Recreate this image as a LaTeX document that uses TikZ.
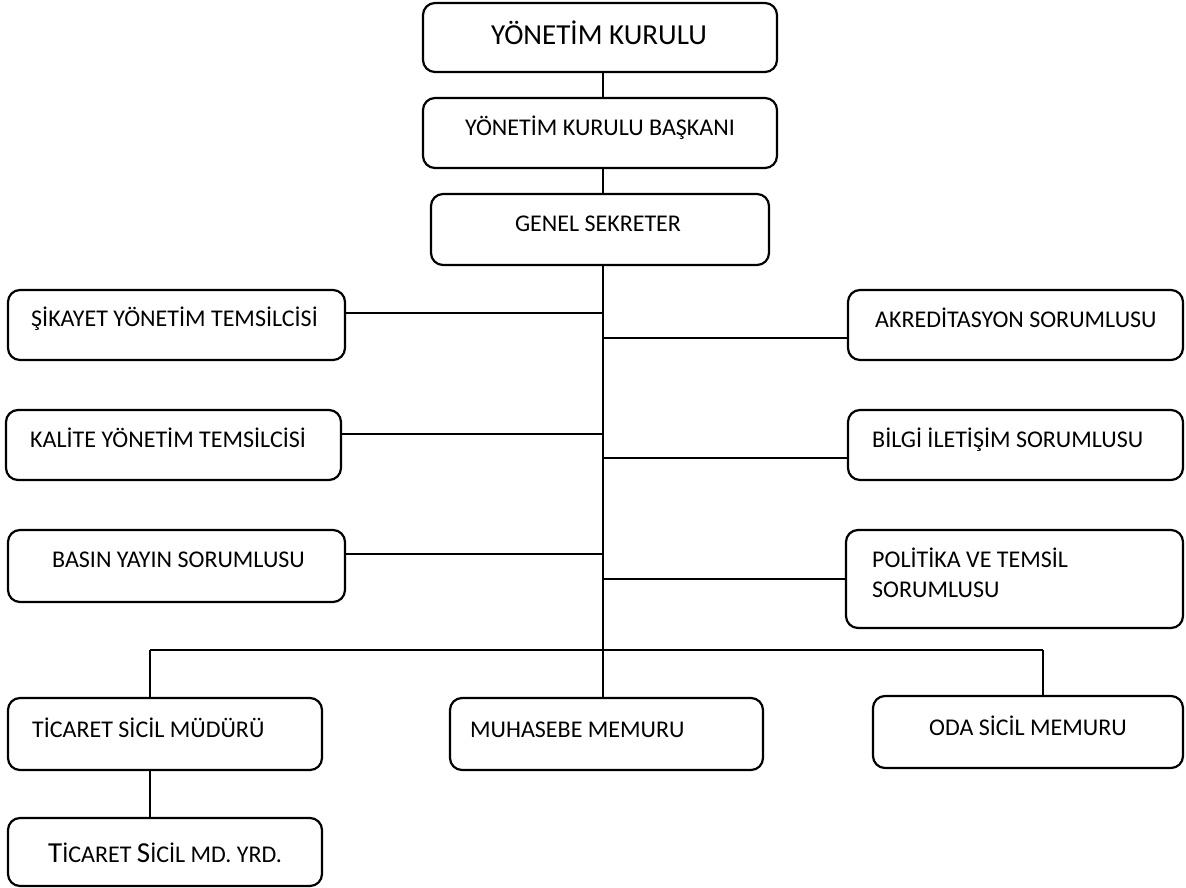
\documentclass[tikz,border=0pt]{standalone}
\usepackage{fontspec}
\setmainfont{Carlito}
\begin{document}
\begin{tikzpicture}[x=1pt,y=-1pt,
  box/.style={draw, line width=2.2pt, rounded corners=12pt, inner sep=0pt},
  conn/.style={draw, line width=1.2pt},
  lbl/.style={anchor=base west, inner sep=0pt, font=\fontsize{24}{29}\selectfont},
  clbl/.style={anchor=base, inner sep=0pt, font=\fontsize{24}{29}\selectfont}]
\useasboundingbox (0,0) rectangle (1186,888);
% boxes
\node[box, minimum width=354pt, minimum height=69pt] (yk) at (600,37.5) {};
\node[box, minimum width=354pt, minimum height=70pt] (ykb) at (600,133) {};
\node[box, minimum width=338pt, minimum height=71pt] (gs) at (600,229.5) {};
\node[box, minimum width=337pt, minimum height=70pt] (sik) at (176.5,325) {};
\node[box, minimum width=335pt, minimum height=70pt] (kal) at (173.5,445) {};
\node[box, minimum width=337pt, minimum height=72pt] (bas) at (176.5,566) {};
\node[box, minimum width=335pt, minimum height=70pt] (akr) at (1015.5,325) {};
\node[box, minimum width=335pt, minimum height=70pt] (bil) at (1015.5,445) {};
\node[box, minimum width=337pt, minimum height=98pt] (pol) at (1014.5,579) {};
\node[box, minimum width=314pt, minimum height=72pt] (tic) at (165,734) {};
\node[box, minimum width=313pt, minimum height=72pt] (muh) at (606.5,734) {};
\node[box, minimum width=310pt, minimum height=72pt] (oda) at (1028,732) {};
\node[box, minimum width=314pt, minimum height=68pt] (yrd) at (165,852) {};
% texts
\node[clbl, font=\fontsize{29}{35}\selectfont] (t-yk) at (599,45) {YÖNETİM KURULU};
\node[clbl] (t-ykb) at (600,136) {YÖNETİM KURULU BAŞKANI};
\node[clbl] (t-gs) at (598,231) {GENEL SEKRETER};
\node[lbl] (t-sik) at (31,326) {ŞİKAYET YÖNETİM TEMSİLCİSİ};
\node[lbl] (t-kal) at (30,447) {KALİTE YÖNETİM TEMSİLCİSİ};
\node[lbl] (t-bas) at (52,567) {BASIN YAYIN SORUMLUSU};
\node[lbl] (t-akr) at (875,327) {AKREDİTASYON SORUMLUSU};
\node[lbl] (t-bil) at (872,447) {BİLGİ İLETİŞİM SORUMLUSU};
\node[lbl, align=left] (t-pol) at (872,597) {POLİTİKA VE TEMSİL\\[1pt]SORUMLUSU};
\node[lbl] (t-tic) at (32,737) {TİCARET SİCİL MÜDÜRÜ};
\node[lbl] (t-muh) at (470,737) {MUHASEBE MEMURU};
\node[clbl] (t-oda) at (1028,735) {ODA SİCİL MEMURU};
\node[lbl] (t-yrd) at (48,862) {{\fontsize{29}{34}\selectfont T}İCARET {\fontsize{29}{34}\selectfont S}İCİL MD. YRD.};
% connectors
\coordinate (sp) at (603,0);
\coordinate (busL) at (150,650);
\coordinate (busR) at (1043,650);
\draw[conn] (yk.south -| sp) -- (ykb.north -| sp);
\draw[conn] (ykb.south -| sp) -- (gs.north -| sp);
\draw[conn] (gs.south -| sp) -- (muh.north -| sp);
\draw[conn] ([yshift=12pt]sik.east) -- ([yshift=12pt]sik.east -| sp);
\draw[conn] ([yshift=11pt]kal.east) -- ([yshift=11pt]kal.east -| sp);
\draw[conn] ([yshift=12pt]bas.east) -- ([yshift=12pt]bas.east -| sp);
\draw[conn] ([yshift=-13pt]akr.west) -- ([yshift=-13pt]akr.west -| sp);
\draw[conn] ([yshift=-13pt]bil.west) -- ([yshift=-13pt]bil.west -| sp);
\draw[conn] (pol.west) -- (pol.west -| sp);
\draw[conn] (busL) -- (busR);
\draw[conn] (busL) -- (busL |- tic.north);
\draw[conn] (busR) -- (busR |- oda.north);
\draw[conn] (busL |- tic.south) -- (busL |- yrd.north);
\end{tikzpicture}
\end{document}
